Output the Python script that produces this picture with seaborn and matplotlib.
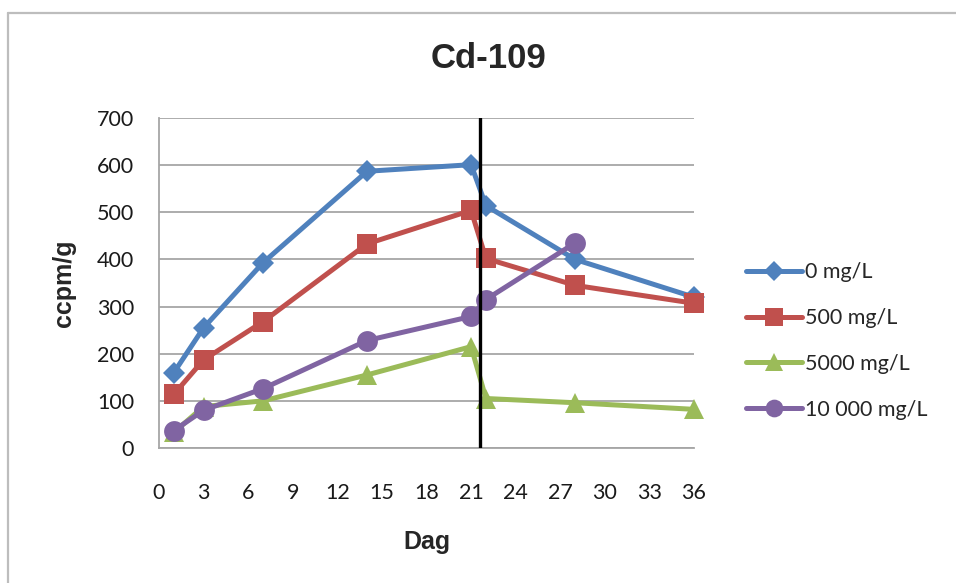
import matplotlib
matplotlib.use("Agg")
import matplotlib.pyplot as plt
from matplotlib.lines import Line2D
import pandas as pd
import seaborn as sns

# Measurement days and activity (ccpm/g) per Cd concentration
days = [1, 3, 7, 14, 21, 22, 28, 36]
conc_0 = [160, 255, 393, 587, 601, 514, 400, 320]
conc_500 = [114, 187, 268, 433, 504, 402, 345, 307]
conc_5000 = [33, 88, 100, 155, 215, 105, 96, 82]
conc_10000 = [37, 80, 126, 228, 279, 315, 435]  # no value on day 36
series_labels = ["0 mg/L", "500 mg/L", "5000 mg/L", "10 000 mg/L"]
series_values = [conc_0, conc_500, conc_5000, conc_10000]
switch_day = 21.6

x_ticks = list(range(0, 37, 3))
y_ticks = list(range(0, 701, 100))

colors = ["#4F81BD", "#C0504D", "#9BBB59", "#8064A2"]
markers = ["D", "s", "^", "o"]
msizes = [11.5, 14.5, 14.5, 15]

rows = []
for label, vals in zip(series_labels, series_values):
    for d, v in zip(days, vals):
        rows.append({"Dag": d, "ccpm/g": v, "serie": label})
df = pd.DataFrame(rows)

sns.set_theme(style="white")
plt.rcParams["font.family"] = ["Lato", "DejaVu Sans"]

fig = plt.figure(figsize=(9.56, 5.83), dpi=100)
ax = fig.add_axes([159 / 956, 1 - 448 / 583, (694 - 159) / 956, (448 - 118) / 583])

for label, color, mk, ms in zip(series_labels, colors, markers, msizes):
    sub = df[df["serie"] == label]
    sns.lineplot(data=sub, x="Dag", y="ccpm/g", ax=ax, color=color,
                 marker=mk, markersize=ms, linewidth=3.6,
                 markeredgewidth=0, clip_on=False, label=label,
                 legend=False, zorder=3)

ax.axvline(switch_day, color="black", linewidth=2.4, zorder=5)

ax.set_xlim(0, 36)
ax.set_ylim(0, 700)
ax.set_xticks(x_ticks)
ax.set_yticks(y_ticks)
ax.grid(axis="y", color="#A6A6A6", linewidth=1.3)
ax.grid(axis="x", visible=False)
ax.set_axisbelow(True)
for side in ["top", "right"]:
    ax.spines[side].set_visible(False)
for side in ["left", "bottom"]:
    ax.spines[side].set_color("#A6A6A6")
    ax.spines[side].set_linewidth(1.3)
ax.tick_params(axis="both", which="both", direction="out", colors="#A6A6A6",
               labelcolor="#1a1a1a", labelsize=15.5, width=1.3)
ax.tick_params(axis="y", length=5, pad=13)
ax.tick_params(axis="x", length=6, pad=19)

ax.set_xlabel("Dag", fontsize=18, fontweight="bold",
              family=["Liberation Sans", "DejaVu Sans"], labelpad=20)
ax.set_ylabel("ccpm/g", fontsize=18, fontweight="bold",
              family=["Liberation Sans", "DejaVu Sans"], labelpad=15)
fig.text(488 / 956, 1 - 58 / 583, "Cd-109", ha="center", va="center",
         fontsize=25, fontweight="bold", family=["Liberation Sans", "DejaVu Sans"])

handles = [Line2D([], [], color=c, marker=m, markersize=s * 0.85, linewidth=3.6,
                  markeredgewidth=0)
           for c, m, s in zip(colors, markers, msizes)]
fig.legend(handles, series_labels, loc="center left",
           bbox_to_anchor=(746 / 956, 1 - 341 / 583), frameon=False,
           fontsize=15.5, handlelength=2.6, handletextpad=0.15,
           labelspacing=1.2, borderpad=0, borderaxespad=0)

# outer chart frame
fig.add_artist(Line2D([8 / 956, 1], [1 - 13 / 583, 1 - 13 / 583],
                      color="#BDBDBD", linewidth=1.6, transform=fig.transFigure))
fig.add_artist(Line2D([8 / 956, 8 / 956], [0, 1 - 13 / 583],
                      color="#BDBDBD", linewidth=1.6, transform=fig.transFigure))

fig.savefig("out.png", dpi=100)
